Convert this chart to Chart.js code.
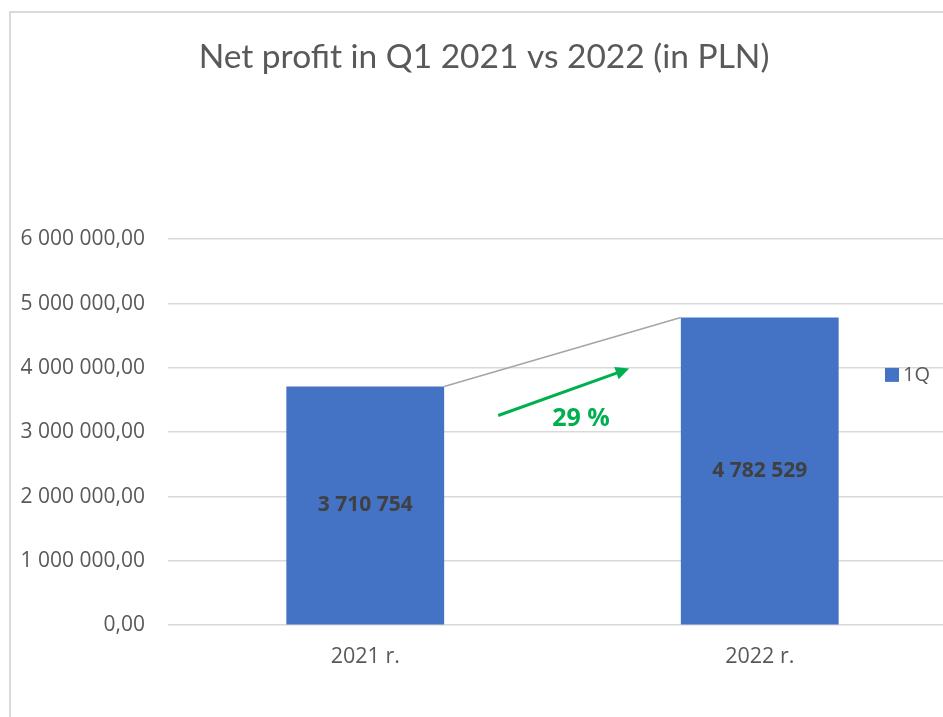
<!DOCTYPE html>
<html>
<head>
<meta charset="utf-8">
<script src="https://cdn.jsdelivr.net/npm/chart.js@4"></script>
<style>
  html, body { margin: 0; padding: 0; background: #fff; overflow: hidden; width: 943px; height: 717px; }
  #frame { position: absolute; left: 9px; top: 11px; border-left: 2px solid #d9d9d9; border-top: 2px solid #d9d9d9; }
  canvas { display: block; }
</style>
</head>
<body>
<div id="frame"><canvas id="profitChart" width="946" height="704"></canvas></div>
<script>
// Chart data
const categories = ['2021 r.', '2022 r.'];
const netProfit = [3710754, 4782529];
const seriesName = '1Q';
const yMin = 0;
const yMax = 6000000;
const yStep = 1000000;

// Growth arrow annotation (category index, value)
const arrowFrom = [0.337, 3260000];
const arrowTo = [0.669, 3990000];
const arrowLabelAt = [0.547, 3210000];

const barColor = '#4472C4';
const textColor = '#595959';
const gridColor = '#d9d9d9';
const green = '#00B050';

function spaced(n) {
  return String(Math.round(n)).replace(/\B(?=(\d{3})+(?!\d))/g, ' ');
}

// Gray line between bar tops, data labels, growth arrow and legend
const annotations = {
  id: 'annotations',
  afterDatasetsDraw(chart) {
    const ctx = chart.ctx;
    const bars = chart.getDatasetMeta(0).data;
    const x = chart.scales.x;
    const y = chart.scales.y;

    // connector
    const b0 = bars[0], b1 = bars[1];
    ctx.save();
    ctx.strokeStyle = '#a5a5a5';
    ctx.lineWidth = 1.5;
    ctx.beginPath();
    ctx.moveTo(b0.x + b0.width / 2, b0.y);
    ctx.lineTo(b1.x - b1.width / 2, b1.y);
    ctx.stroke();

    // values inside bars
    ctx.fillStyle = '#404040';
    ctx.font = 'bold 21px "Open Sans"';
    ctx.textAlign = 'center';
    ctx.textBaseline = 'middle';
    bars.forEach((bar, i) => {
      ctx.fillText(spaced(netProfit[i]), bar.x, (bar.y + bar.base) / 2);
    });

    // growth arrow
    const x1 = x.getPixelForValue(arrowFrom[0]), y1 = y.getPixelForValue(arrowFrom[1]);
    const x2 = x.getPixelForValue(arrowTo[0]), y2 = y.getPixelForValue(arrowTo[1]);
    const ang = Math.atan2(y2 - y1, x2 - x1);
    const head = 15;
    ctx.strokeStyle = green;
    ctx.fillStyle = green;
    ctx.lineWidth = 3;
    ctx.beginPath();
    ctx.moveTo(x1, y1);
    ctx.lineTo(x2 - head * 0.8 * Math.cos(ang), y2 - head * 0.8 * Math.sin(ang));
    ctx.stroke();
    ctx.beginPath();
    ctx.moveTo(x2, y2);
    ctx.lineTo(x2 - head * Math.cos(ang - 0.45), y2 - head * Math.sin(ang - 0.45));
    ctx.lineTo(x2 - head * Math.cos(ang + 0.45), y2 - head * Math.sin(ang + 0.45));
    ctx.closePath();
    ctx.fill();

    const growth = Math.round((netProfit[1] / netProfit[0] - 1) * 100);
    ctx.font = 'bold 25px "Open Sans"';
    ctx.fillText(growth + ' %', x.getPixelForValue(arrowLabelAt[0]), y.getPixelForValue(arrowLabelAt[1]));

    // legend
    const area = chart.chartArea;
    const ly = y.getPixelForValue(4000000);
    ctx.fillStyle = barColor;
    ctx.fillRect(area.right - 72, ly, 14, 14);
    ctx.fillStyle = textColor;
    ctx.font = '20px "Open Sans"';
    ctx.textAlign = 'left';
    ctx.fillText(seriesName, area.right - 54, ly + 7);
    ctx.restore();
  }
};

new Chart(document.getElementById('profitChart').getContext('2d'), {
  type: 'bar',
  data: {
    labels: categories,
    datasets: [{
      label: seriesName,
      data: netProfit,
      backgroundColor: barColor,
      barPercentage: 0.4,
      categoryPercentage: 1.0
    }]
  },
  options: {
    responsive: false,
    animation: false,
    layout: { padding: { left: 0, right: 0, top: 0, bottom: 36 } },
    plugins: {
      legend: { display: false },
      tooltip: { enabled: false },
      title: {
        display: true,
        text: 'Net profit in Q1 2021 vs 2022 (in PLN)',
        color: textColor,
        font: { family: 'Lato', size: 33.5, weight: 'normal' },
        padding: { top: 24, bottom: 162 }
      }
    },
    scales: {
      x: {
        grid: { display: false },
        border: { display: false },
        ticks: {
          color: textColor,
          font: { family: 'Open Sans', size: 21.5 },
          padding: 11
        }
      },
      y: {
        min: yMin,
        max: yMax,
        afterFit(scale) { scale.width = 157; },
        grid: { color: gridColor, lineWidth: 1.5, drawTicks: false },
        border: { display: false },
        ticks: {
          stepSize: yStep,
          color: textColor,
          padding: 23,
          font: { family: 'Open Sans', size: 21 },
          callback: v => spaced(v) + ',00'
        }
      }
    }
  },
  plugins: [annotations]
});
</script>
</body>
</html>
